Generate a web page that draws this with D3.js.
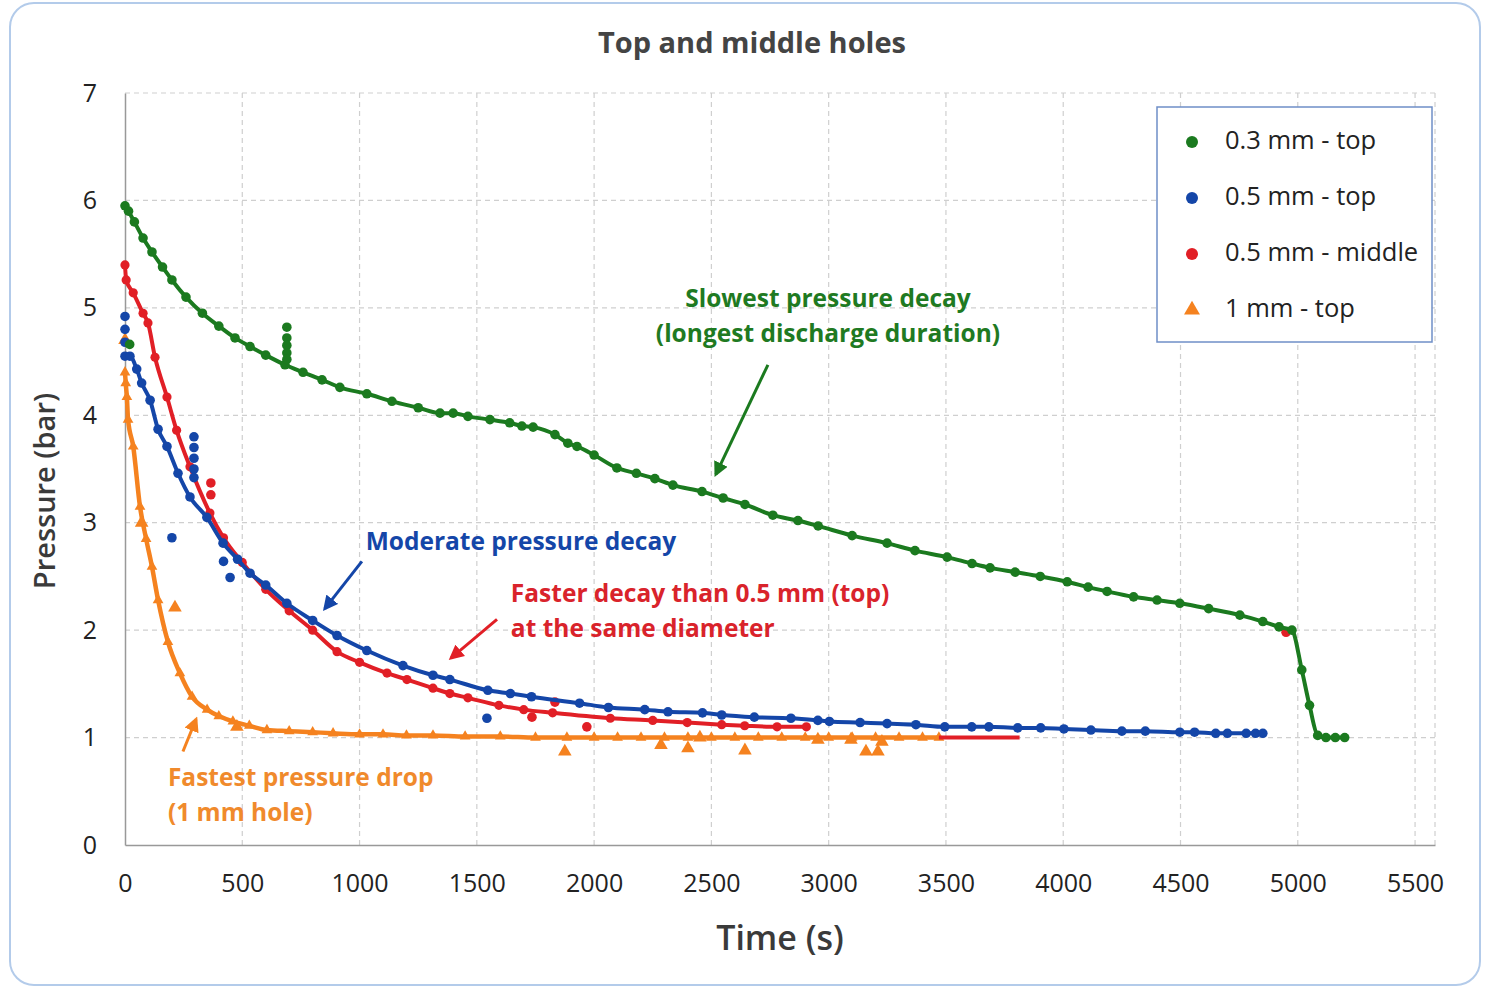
<!DOCTYPE html>
<html>
<head>
<meta charset="utf-8">
<script src="https://cdn.jsdelivr.net/npm/d3@7"></script>
<style>
  body { margin: 0; background: #fff; }
  svg text { font-family: "Open Sans", Lato, sans-serif; }
</style>
</head>
<body>
<svg id="chart" width="1488" height="990"></svg>
<script>
// ---- data: [time (s), pressure (bar)] ----
const green03Top = [[0,5.95],[15,5.90],[40,5.80],[77,5.65],[115,5.52],[160,5.38],[200,5.26],[260,5.10],[330,4.95],[400,4.83],[469,4.72],[533,4.64],[600,4.56],[682,4.47],[759,4.40],[840,4.33],[916,4.26],[1031,4.20],[1138,4.13],[1250,4.07],[1343,4.02],[1399,4.02],[1462,3.99],[1556,3.96],[1640,3.93],[1692,3.90],[1740,3.89],[1833,3.82],[1888,3.74],[1927,3.71],[2000,3.63],[2097,3.51],[2180,3.46],[2259,3.41],[2336,3.35],[2460,3.29],[2550,3.23],[2643,3.17],[2762,3.07],[2869,3.02],[2955,2.97],[3100,2.88],[3249,2.81],[3368,2.74],[3505,2.68],[3611,2.62],[3688,2.58],[3795,2.54],[3902,2.50],[4017,2.45],[4106,2.40],[4187,2.36],[4300,2.31],[4400,2.28],[4497,2.25],[4620,2.20],[4753,2.14],[4851,2.08],[4920,2.03],[4975,2.00],[5017,1.63],[5050,1.30],[5085,1.02],[5120,1.00],[5160,1.00],[5200,1.00]];
const green03Extra = [[690,4.82],[690,4.72],[690,4.65],[690,4.58],[690,4.52],[20,4.66]];

const blue05Top = [[0,4.55],[21,4.55],[50,4.43],[71,4.30],[107,4.14],[141,3.87],[179,3.71],[226,3.46],[277,3.24],[349,3.05],[418,2.81],[480,2.66],[533,2.53],[600,2.42],[690,2.25],[800,2.09],[904,1.95],[1031,1.81],[1185,1.67],[1313,1.58],[1385,1.54],[1547,1.44],[1643,1.41],[1733,1.38],[1938,1.32],[2061,1.28],[2216,1.26],[2315,1.24],[2462,1.23],[2544,1.21],[2683,1.19],[2839,1.18],[2954,1.16],[3003,1.15],[3134,1.14],[3249,1.13],[3372,1.12],[3495,1.10],[3610,1.10],[3683,1.10],[3806,1.09],[3904,1.09],[4003,1.08],[4118,1.07],[4250,1.06],[4350,1.06],[4497,1.05],[4560,1.05],[4650,1.04],[4700,1.04],[4780,1.04],[4820,1.04],[4851,1.04]];
const blue05Extra = [[0,4.92],[0,4.80],[0,4.68],[294,3.80],[294,3.70],[294,3.60],[294,3.50],[294,3.42],[200,2.86],[420,2.64],[448,2.49],[1543,1.18]];

const red05Middle = [[0,5.40],[5,5.26],[35,5.14],[77,4.95],[98,4.86],[128,4.54],[179,4.17],[220,3.86],[277,3.52],[362,3.09],[420,2.86],[500,2.63],[600,2.38],[700,2.18],[800,2.00],[904,1.80],[1000,1.70],[1117,1.60],[1202,1.54],[1313,1.46],[1385,1.41],[1462,1.37],[1594,1.30],[1700,1.26],[1823,1.23],[2069,1.18],[2250,1.16],[2397,1.14],[2544,1.12],[2642,1.11],[2780,1.10],[2905,1.10]];
const red05Tail = [[3470,1.00],[3600,1.00],[3700,1.00],[3814,1.00]];
const red05Extra = [[366,3.37],[366,3.26],[1735,1.19],[1969,1.10],[1833,1.33],[4950,1.98]];

const orange1Top = [[0,4.40],[3,4.30],[8,4.17],[13,3.96],[35,3.71],[64,3.15],[90,2.85],[115,2.59],[141,2.28],[183,1.89],[234,1.60],[286,1.38],[350,1.26],[400,1.20],[460,1.15],[530,1.11],[605,1.07],[700,1.06],[800,1.05],[887,1.04],[1000,1.03],[1100,1.03],[1200,1.02],[1313,1.02],[1450,1.01],[1600,1.01],[1750,1.00],[1884,1.00],[2000,1.00],[2100,1.00],[2200,1.00],[2300,1.00],[2400,1.00],[2500,1.00],[2600,1.00],[2700,1.00],[2800,1.00],[2900,1.00],[3000,1.00],[3100,1.00],[3200,1.00],[3300,1.00],[3400,1.00],[3470,1.00]];
const orange1Extra = [[0,4.70],[71,3.00],[213,2.21],[477,1.10],[1875,0.87],[2285,0.93],[2400,0.90],[2643,0.88],[3159,0.87],[3210,0.87],[2451,1.00],[2954,0.98],[3095,0.98],[3227,0.96]];

const xTicks = [0,500,1000,1500,2000,2500,3000,3500,4000,4500,5000,5500];
const yTicks = [0,1,2,3,4,5,6,7];

const legendLabels = ["0.3 mm - top", "0.5 mm - top", "0.5 mm - middle", "1 mm - top"];
const legendColors = ["#1b7a1f", "#1446a8", "#e11f26", "#f5821f"];
const legendShapes = ["circle", "circle", "circle", "triangle"];

// ---- layout ----
const W = 1488, H = 990;
const margin = { left: 125, top: 93, right: 53, bottom: 145 };
const svg = d3.select('#chart');

const x = d3.scaleLinear().domain([0, 5585]).range([margin.left, W - margin.right]);
const y = d3.scaleLinear().domain([0, 7]).range([H - margin.bottom, margin.top]);

// card border
svg.append('rect')
  .attr('x', 10).attr('y', 3).attr('width', 1470).attr('height', 982)
  .attr('rx', 24).attr('fill', '#fff')
  .attr('stroke', '#b3cbea').attr('stroke-width', 2);

// title
svg.append('text')
  .attr('x', 752).attr('y', 53)
  .attr('text-anchor', 'middle')
  .style('font-size', '29px').style('font-weight', 700).style('fill', '#444')
  .text('Top and middle holes');

// grid
const grid = svg.append('g');
grid.selectAll('line.h').data(yTicks.slice(1)).enter().append('line')
  .attr('x1', x(0)).attr('x2', x.range()[1])
  .attr('y1', d => y(d)).attr('y2', d => y(d))
  .attr('stroke', '#cfcfcf').attr('stroke-dasharray', '5,4').attr('stroke-width', 1.2);
grid.selectAll('line.v').data(xTicks.slice(1).concat([x.domain()[1]])).enter().append('line')
  .attr('x1', d => x(d)).attr('x2', d => x(d))
  .attr('y1', y(0)).attr('y2', y(7))
  .attr('stroke', '#cfcfcf').attr('stroke-dasharray', '5,4').attr('stroke-width', 1.2);

// axes
const xAxis = svg.append('g')
  .attr('transform', `translate(0,${y(0)})`)
  .call(d3.axisBottom(x).tickValues(xTicks).tickFormat(d3.format('d')).tickSize(0).tickPadding(29));
xAxis.select('.domain').attr('stroke', '#999').attr('stroke-width', 1.5);
xAxis.selectAll('text').style('font-size', '25px').style('fill', '#222')
  .style('font-family', '"Open Sans", sans-serif');

const yAxis = svg.append('g')
  .attr('transform', `translate(${x(0)},0)`)
  .call(d3.axisLeft(y).tickValues(yTicks).tickFormat(d3.format('d')).tickSize(0).tickPadding(28));
yAxis.select('.domain').attr('stroke', '#999').attr('stroke-width', 1.5);
yAxis.selectAll('text').style('font-size', '25px').style('fill', '#222')
  .style('font-family', '"Open Sans", sans-serif');

// axis titles
svg.append('text')
  .attr('x', 780).attr('y', 950).attr('text-anchor', 'middle')
  .style('font-size', '34px').style('font-weight', 600).style('fill', '#3a3a3a')
  .text('Time (s)');
svg.append('text')
  .attr('transform', 'translate(55,491) rotate(-90)').attr('text-anchor', 'middle')
  .style('font-size', '29px').style('font-weight', 600).style('fill', '#3a3a3a')
  .text('Pressure (bar)');

// series
const line = d3.line().x(d => x(d[0])).y(d => y(d[1])).curve(d3.curveMonotoneX);
const plot = svg.append('g');
const tri = d3.symbol().type(d3.symbolTriangle);

function drawLine(data, color, width) {
  plot.append('path').datum(data)
    .attr('d', line).attr('fill', 'none')
    .attr('stroke', color).attr('stroke-width', width).attr('stroke-linejoin', 'round');
}
function drawDots(data, color, r) {
  plot.append('g').selectAll('circle').data(data).enter().append('circle')
    .attr('cx', d => x(d[0])).attr('cy', d => y(d[1])).attr('r', r).attr('fill', color);
}
function drawTris(data, color, size) {
  plot.append('g').selectAll('path').data(data).enter().append('path')
    .attr('d', tri.size(size)())
    .attr('transform', d => `translate(${x(d[0])},${y(d[1])})`)
    .attr('fill', color);
}

// orange (1 mm top)
drawLine(orange1Top, legendColors[3], 4.5);
drawTris(orange1Top, legendColors[3], 50);
drawTris(orange1Extra, legendColors[3], 80);

// red (0.5 mm middle)
drawLine(red05Middle, legendColors[2], 4);
drawLine(red05Tail, legendColors[2], 4);
drawDots(red05Middle, legendColors[2], 4.6);
drawDots(red05Extra, legendColors[2], 4.8);

// blue (0.5 mm top)
drawLine(blue05Top, legendColors[1], 4);
drawDots(blue05Top, legendColors[1], 4.8);
drawDots(blue05Extra, legendColors[1], 4.8);

// green (0.3 mm top)
drawLine(green03Top, legendColors[0], 4);
drawDots(green03Top, legendColors[0], 4.8);
drawDots(green03Extra, legendColors[0], 4.8);

// arrows
const defs = svg.append('defs');
legendColors.forEach((c, i) => {
  defs.append('marker')
    .attr('id', 'arrow' + i).attr('viewBox', '0 0 10 10')
    .attr('refX', 8).attr('refY', 5)
    .attr('markerWidth', 5).attr('markerHeight', 5)
    .attr('orient', 'auto')
    .append('path').attr('d', 'M0,0 L10,5 L0,10 z').attr('fill', c);
});

const notes = [
  { lines: ['Slowest pressure decay', '(longest discharge duration)'], t: 2997, p: 5.07, anchor: 'middle', color: 0,
    arrow: [[2741, 4.47], [2519, 3.45]] },
  { lines: ['Moderate pressure decay'], t: 1688, p: 2.81, anchor: 'middle', color: 1,
    arrow: [[1010, 2.64], [852, 2.20]] },
  { lines: ['Faster decay than 0.5 mm (top)', 'at the same diameter'], t: 1645, p: 2.33, anchor: 'start', color: 2,
    arrow: [[1586, 2.10], [1390, 1.74]] },
  { lines: ['Fastest pressure drop', '(1 mm hole)'], t: 183, p: 0.61, anchor: 'start', color: 3,
    arrow: [[247, 0.87], [303, 1.17]] }
];
const darkText = ["#1f7a22", "#1446a8", "#d9232b", "#f08a2c"];

notes.forEach(n => {
  const t = svg.append('text')
    .attr('x', x(n.t)).attr('y', y(n.p))
    .attr('text-anchor', n.anchor)
    .attr('dominant-baseline', 'middle')
    .style('font-size', '24.5px').style('font-weight', 700).style('fill', darkText[n.color]);
  n.lines.forEach((s, i) => {
    t.append('tspan').attr('x', x(n.t)).attr('dy', i === 0 ? 0 : 35).text(s);
  });
  svg.append('line')
    .attr('x1', x(n.arrow[0][0])).attr('y1', y(n.arrow[0][1]))
    .attr('x2', x(n.arrow[1][0])).attr('y2', y(n.arrow[1][1]))
    .attr('stroke', legendColors[n.color]).attr('stroke-width', 3)
    .attr('marker-end', `url(#arrow${n.color})`);
});

// legend
const legend = svg.append('g').attr('transform', 'translate(1157,107)');
legend.append('rect')
  .attr('width', 275).attr('height', 235)
  .attr('fill', '#fff').attr('stroke', '#6f8fc7').attr('stroke-width', 1.5);
const item = legend.selectAll('g.item').data(legendLabels).enter().append('g')
  .attr('transform', (d, i) => `translate(35,${35 + i * 56})`);
item.each(function (d, i) {
  const g = d3.select(this);
  if (legendShapes[i] === 'triangle') {
    g.append('path').attr('d', d3.symbol().type(d3.symbolTriangle).size(110)()).attr('fill', legendColors[i]);
  } else {
    g.append('circle').attr('r', 6).attr('fill', legendColors[i]);
  }
  g.append('text').attr('x', 33).attr('dominant-baseline', 'middle')
    .style('font-size', '25.5px').style('fill', '#222').text(d);
});
</script>
</body>
</html>
